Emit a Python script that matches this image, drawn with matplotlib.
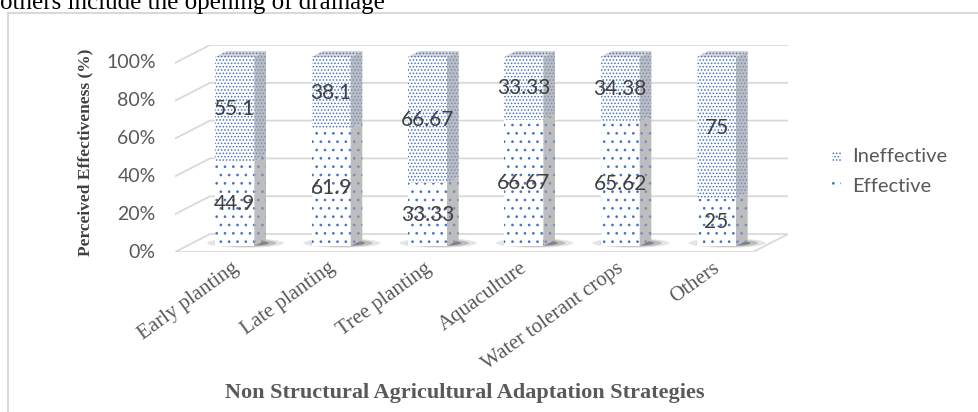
import matplotlib
matplotlib.use('Agg')
import matplotlib.pyplot as plt
from matplotlib.patches import Rectangle, Polygon, Ellipse

# Percent of respondents per strategy
categories = ['Early planting', 'Late planting', 'Tree planting',
              'Aquaculture', 'Water tolerant crops', 'Others']
effective = [44.9, 61.9, 33.33, 66.67, 65.62, 25]
ineffective = [55.1, 38.1, 66.67, 33.33, 34.38, 75]
yticks = [0, 20, 40, 60, 80, 100]

plt.rcParams['hatch.linewidth'] = 0.7

W, H = 979, 412
fig = plt.figure(figsize=(W / 100, H / 100), dpi=100)

# depth of the pseudo-3D box (category units, percent units)
DX, DY = 0.363, 9.5
BAR_W = 0.405
D1, D2 = 1 / 3, 2 / 3          # bar front / back depth
BLUE = '#4472c4'
GRID = '#d9d9d9'
TXT = '#595959'
SANS = 'Lato'
SERIF = 'Liberation Serif'
HATCH_EFF, HATCH_INEFF = '..', '.....'

ax = fig.add_axes([175 / W, 1 - 252 / H, (788 - 175) / W, (252 - 45) / H])
n = len(categories)
ax.set_xlim(-0.5, n - 0.5 + DX)
ax.set_ylim(0, 100 + DY)
ax.axis('off')

# floor and back-wall gridlines
floor = Polygon([(-0.5, 0), (n - 0.5, 0), (n - 0.5 + DX, DY), (-0.5 + DX, DY)],
                closed=True, facecolor='white', edgecolor=GRID, lw=1.3, zorder=1)
ax.add_patch(floor)
for v in yticks:
    if v > 0:
        ax.plot([-0.5, -0.5 + DX, n - 0.5 + DX], [v, v + DY, v + DY],
                color=GRID, lw=1.3, zorder=1)
    ax.text(-0.5 - 0.2, v, f'{v}%', ha='right', va='center',
            family=SANS, fontsize=14, color=TXT)


def depth(x, y, d):
    return (x + d * DX, y + d * DY)


for i in range(n):
    xl, xr = i - BAR_W / 2, i + BAR_W / 2

    # soft shadow on the floor
    cx, cy = depth(i + 0.05, 0, 0.5)
    for k, a in [(1.0, 0.10), (0.8, 0.18), (0.6, 0.30)]:
        ax.add_patch(Ellipse((cx, cy), 0.8 * k, 5.0 * k, facecolor='black',
                             edgecolor='none', alpha=a, zorder=2))

    segs = [(0, effective[i], HATCH_EFF), (effective[i], effective[i] + ineffective[i], HATCH_INEFF)]
    for y0, y1, hatch in segs:
        fx, fy = depth(xl, y0, D1)
        ax.add_patch(Rectangle((fx, fy), BAR_W, y1 - y0, facecolor='white',
                               edgecolor=BLUE, hatch=hatch, lw=0, zorder=3))
        side = [depth(xr, y0, D1), depth(xr, y1, D1), depth(xr, y1, D2), depth(xr, y0, D2)]
        ax.add_patch(Polygon(side, closed=True, facecolor='#bdbdbd',
                             edgecolor='#6f8fc8', hatch=hatch, lw=0, zorder=3))
        ax.text(i + D1 * DX, (y0 + y1) / 2 + D1 * DY, f'{y1 - y0:g}',
                ha='center', va='center', family=SANS, fontsize=15,
                color='#404040', zorder=5)

    top = 100
    ax.add_patch(Polygon([depth(xl, top, D1), depth(xr, top, D1),
                          depth(xr, top, D2), depth(xl, top, D2)], closed=True,
                         facecolor='#d4d4d4', edgecolor=BLUE, hatch=HATCH_INEFF,
                         lw=0, zorder=3))

    ax.text(i + D1 * DX - 0.04, -3.5, categories[i], rotation=36,
            rotation_mode='anchor', ha='right', va='top',
            family=SERIF, fontsize=15, color=TXT)

# axis titles
fig.text(85 / W, 1 - 152 / H, 'Perceived Effectiveness (%)', rotation=90,
         ha='center', va='center', family=SERIF, weight='bold',
         fontsize=12.5, color='#404040')
fig.text(465 / W, 1 - 393 / H, 'Non Structural Agricultural Adaptation Strategies',
         ha='center', va='center', family=SERIF, weight='bold',
         fontsize=16, color=TXT)

# legend
for yy, hatch, label in [(157, HATCH_INEFF, 'Ineffective'), (186, HATCH_EFF, 'Effective')]:
    fig.add_artist(Rectangle((832 / W, 1 - (yy + 4) / H), 9 / W, 9 / H,
                             transform=fig.transFigure, facecolor='white',
                             edgecolor=BLUE, hatch=hatch, lw=0))
    fig.text(852 / W, 1 - yy / H, label, ha='left', va='center',
             family=SANS, fontsize=14.5, color=TXT)

# chart frame and the line of body text above it
fig.add_artist(Rectangle((8 / W, -0.2), 1.2, 1.2 - 13 / H, transform=fig.transFigure,
                         fill=False, edgecolor=GRID, lw=1.5))
fig.text(0, 1 - 9.5 / H, 'others include the opening of drainage', va='baseline',
         ha='left', family=SERIF, fontsize=18, color='black')

fig.savefig('out.png', dpi=100)
